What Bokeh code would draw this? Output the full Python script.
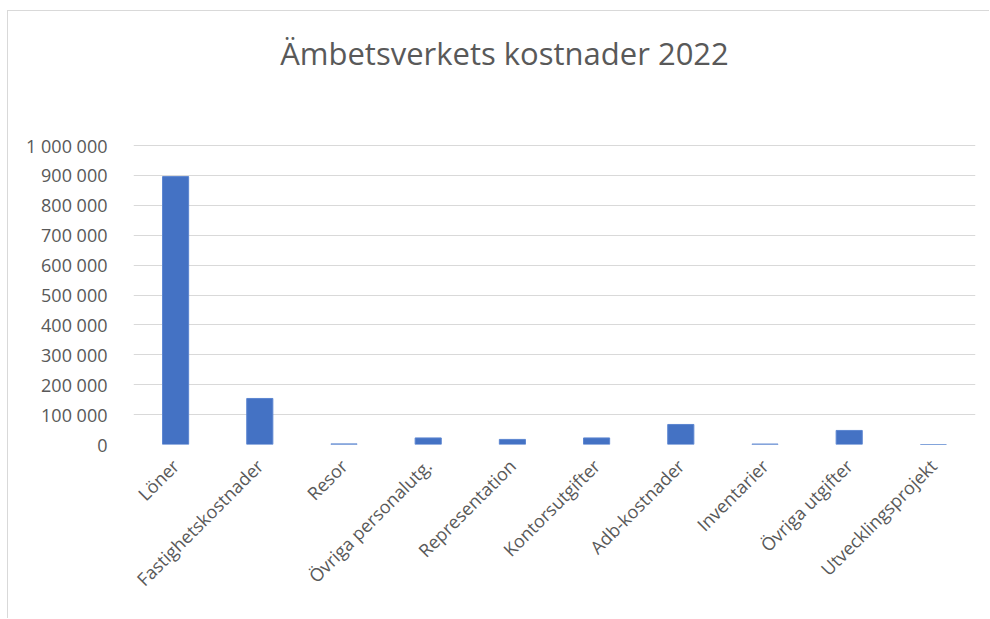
from math import pi
from bokeh.plotting import figure
from bokeh.models import ColumnDataSource, FixedTicker, Label
from bokeh.embed import file_html
from bokeh.resources import INLINE

title_text = "Ämbetsverkets kostnader 2022"
categories = ["Löner", "Fastighetskostnader", "Resor", "Övriga personalutg.",
              "Representation", "Kontorsutgifter", "Adb-kostnader", "Inventarier",
              "Övriga utgifter", "Utvecklingsprojekt"]
values = [896000, 154000, 2000, 22000, 17000, 22000, 67000, 1500, 47000, 0]
y_ticks = [0, 100000, 200000, 300000, 400000, 500000, 600000, 700000, 800000, 900000, 1000000]
y_tick_labels = ["0", "100 000", "200 000", "300 000", "400 000", "500 000",
                 "600 000", "700 000", "800 000", "900 000", "1 000 000"]

FONT = "Open Sans"
GREY = "#595959"

# the frame is extended upwards so the title can sit inside it;
# the value axis (0 .. 1 000 000) occupies the lower 299 px of a 424 px frame
FRAME_H = 424
AXIS_H = 299
y_end = y_ticks[-1] * FRAME_H / AXIS_H

source = ColumnDataSource(data=dict(cat=categories, val=values))

p = figure(x_range=categories, y_range=(0, y_end), width=982, height=608,
           output_backend="svg", toolbar_location=None,
           min_border_left=125, min_border_right=15,
           min_border_top=9, min_border_bottom=175)
p.styles = {"margin-left": "7px", "margin-top": "10px",
            "border-top": "1px solid #d9d9d9", "border-left": "1px solid #d9d9d9"}

p.vbar(x="cat", top="val", width=0.31, source=source,
       fill_color="#4472c4", line_color="#5b85d0", line_width=1)

# screen units: measured from the frame's bottom-left corner
title = Label(x=371, y=392, x_units="screen", y_units="screen", text=title_text,
              text_align="center", text_baseline="middle", text_font=FONT,
              text_font_size="31px", text_color=GREY)
p.add_layout(title)

p.outline_line_color = None
p.xgrid.visible = False
p.ygrid.grid_line_color = "#d9d9d9"
p.ygrid.grid_line_width = 1

p.yaxis.ticker = FixedTicker(ticks=y_ticks)
p.yaxis.major_label_overrides = {t: l for t, l in zip(y_ticks, y_tick_labels)}

for ax in (p.xaxis, p.yaxis):
    ax.axis_line_color = None
    ax.major_tick_line_color = None
    ax.minor_tick_line_color = None
    ax.major_label_text_font = FONT
    ax.major_label_text_font_size = "18px"
    ax.major_label_text_color = GREY

p.yaxis.major_label_standoff = 20
p.xaxis.major_label_orientation = pi / 4
p.xaxis.major_label_standoff = 12

open("out.html", "w").write(file_html(p, INLINE))
